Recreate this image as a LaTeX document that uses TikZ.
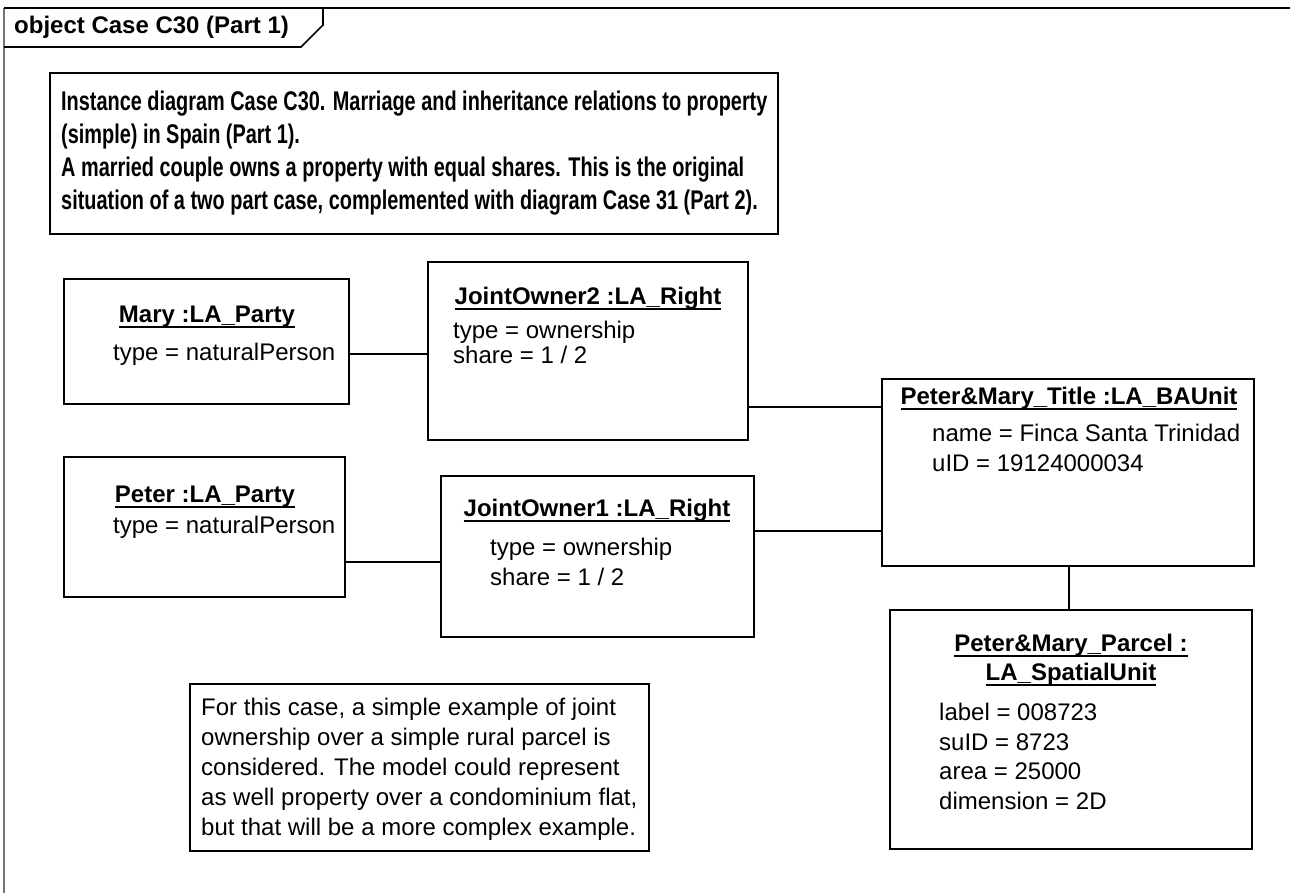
\documentclass[tikz,border=0pt]{standalone}
\usepackage{fontspec}
\setmainfont{Liberation Sans}
\newfontfamily\narrowfont[FakeStretch=0.737]{Liberation Sans}
\newcommand\myul[1]{\setbox0\hbox{#1}\rlap{\rule[-6pt]{\wd0}{1.8pt}}\box0}
\begin{document}
\begin{tikzpicture}[x=1pt,y=-1pt,
  obox/.style={draw=black, line width=2pt, inner sep=0pt, outer sep=0pt, anchor=north west},
  conn/.style={draw=black, line width=1.6pt},
  otitle/.style={font=\fontsize{24}{30}\selectfont\bfseries, inner sep=0pt, anchor=base},
  attr/.style={font=\fontsize{24}{30}\selectfont, inner sep=0pt, anchor=base west},
  notetext/.style={font=\fontsize{24}{30}\selectfont, inner sep=0pt, anchor=base west},
  insttext/.style={font=\narrowfont\bfseries\fontsize{27}{33}\selectfont, inner sep=0pt, align=left, anchor=north west},
  frameline/.style={draw=black, line width=1.6pt},
]
\useasboundingbox (0,0) rectangle (1290,892);
\fill[white] (0,0) rectangle (1290,892);

% frame
\draw[draw=black!55, line width=2.5pt] (4,900) -- (4,8);
\draw[frameline] (4,8) -- (1300,8);
\draw[frameline] (4,47) -- (301,47) -- (323,25) -- (323,8);
\node[font=\fontsize{24}{30}\selectfont\bfseries, inner sep=0pt, anchor=base west] (tabtext) at (14,33) {object Case C30 (Part 1)};

% instance note
\node[obox, minimum width=728pt, minimum height=161pt] (inst) at (50,73) {};
\node[insttext] (instt) at (61,91) {Instance diagram Case C30. Marriage and inheritance relations to property\\(simple) in Spain (Part 1).\\A married couple owns a property with equal shares. This is the original\\situation of a two part case, complemented with diagram Case 31 (Part 2).};

% Mary
\node[obox, minimum width=285pt, minimum height=125pt] (mary) at (64,279) {};
\node[otitle] (maryt) at (207,322) {\myul{Mary :LA\_Party}};
\node[attr] (marya) at (113,360) {type = naturalPerson};

% JointOwner2
\node[obox, minimum width=320pt, minimum height=178pt] (jo2) at (428,262) {};
\node[otitle] (jo2t) at (588,304) {\myul{JointOwner2 :LA\_Right}};
\node[attr] (jo2a) at (453,338) {type = ownership};
\node[attr] (jo2b) at (453,363) {share = 1 / 2};

% Peter
\node[obox, minimum width=281pt, minimum height=140pt] (peter) at (64,457) {};
\node[otitle] (petert) at (205,502) {\myul{Peter :LA\_Party}};
\node[attr] (petera) at (113,533) {type = naturalPerson};

% JointOwner1
\node[obox, minimum width=313pt, minimum height=161pt] (jo1) at (441,476) {};
\node[otitle] (jo1t) at (597,516) {\myul{JointOwner1 :LA\_Right}};
\node[attr] (jo1a) at (490,555) {type = ownership};
\node[attr] (jo1b) at (490,585) {share = 1 / 2};

% Title
\node[obox, minimum width=372pt, minimum height=187pt] (title) at (882,379) {};
\node[otitle] (titlet) at (1069,404) {\myul{Peter\&Mary\_Title :LA\_BAUnit}};
\node[attr] (titlea) at (932,441) {name = Finca Santa Trinidad};
\node[attr] (titleb) at (932,471) {uID = 19124000034};

% Parcel
\node[obox, minimum width=362pt, minimum height=239pt] (parcel) at (890,610) {};
\node[otitle] (parcelt1) at (1071,651) {\myul{Peter\&Mary\_Parcel :}};
\node[otitle] (parcelt2) at (1071,680) {\myul{LA\_SpatialUnit}};
\node[attr] (parcela) at (939,720) {label = 008723};
\node[attr] (parcelb) at (939,750) {suID = 8723};
\node[attr] (parcelc) at (939,779) {area = 25000};
\node[attr] (parceld) at (939,809) {dimension = 2D};

% Note
\node[obox, minimum width=459pt, minimum height=167pt] (note) at (190,684) {};
\node[notetext] (n1) at (201,715) {For this case, a simple example of joint};
\node[notetext] (n2) at (201,745) {ownership over a simple rural parcel is};
\node[notetext] (n3) at (201,775) {considered. The model could represent};
\node[notetext] (n4) at (201,805) {as well property over a condominium flat,};
\node[notetext] (n5) at (201,835) {but that will be a more complex example.};

% connectors
\coordinate (h1) at (0,354);
\coordinate (h2) at (0,407);
\coordinate (h3) at (0,562);
\coordinate (h4) at (0,531);
\coordinate (v1) at (1069,0);
\draw[conn] (mary.east |- h1) -- (jo2.west |- h1);
\draw[conn] (jo2.east |- h2) -- (title.west |- h2);
\draw[conn] (peter.east |- h3) -- (jo1.west |- h3);
\draw[conn] (jo1.east |- h4) -- (title.west |- h4);
\draw[conn] (title.south -| v1) -- (parcel.north -| v1);
\end{tikzpicture}
\end{document}
